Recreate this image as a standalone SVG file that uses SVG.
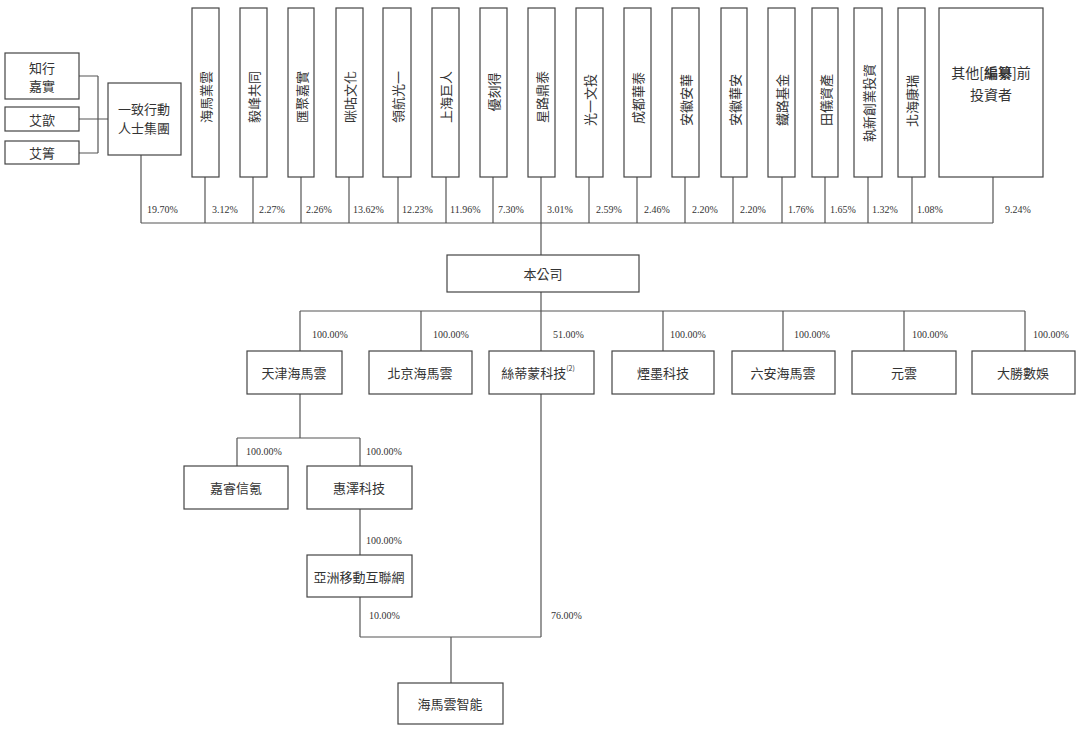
<svg xmlns="http://www.w3.org/2000/svg" width="1080" height="735" viewBox="0 0 1080 735">
<style>
.box{fill:#fff;stroke:#444;stroke-width:1.2}
.ln{fill:none;stroke:#555;stroke-width:1.2}
.t{font-family:"Noto Sans CJK TC","Noto Sans CJK SC",sans-serif;font-size:13px;fill:#333;text-anchor:middle;dominant-baseline:central}
.v{font-family:"Noto Sans CJK TC","Noto Sans CJK SC",sans-serif;font-size:13px;fill:#333;text-anchor:middle;dominant-baseline:central}
.p{font-family:"Liberation Serif","Times New Roman",serif;font-size:10px;fill:#333}
</style>
<rect width="1080" height="735" fill="#fff"/>
<g id="connectors">
<path class="ln" d="M79,76H98M79,119H98M79,153H98M98,76V153M98,119H108"/>
<path class="ln" d="M141,155V223M141,223H993"/>
<path class="ln" d="M205,177V223M253,177V223M301,177V223M349,177V223M398,177V223M446,177V223M493,177V223M541,177V255M589,177V223M637,177V223M685,177V223M733,177V223M782,177V223M825,177V223M868,177V223M912,177V223M993,177V223"/>
<path class="ln" d="M541,292V311M300,311H1025M300,311V351M421,311V351M541,311V351M663,311V351M783,311V351M904,311V351M1025,311V351"/>
<path class="ln" d="M300,394V438M237,438H360M237,438V466M360,438V466M360,509V555M360,597V637M360,637H541M541,394V637M451,637V683"/>
<g class="p">
<text x="147" y="213">19.70%</text>
<text x="212" y="213">3.12%</text>
<text x="259" y="213">2.27%</text>
<text x="306" y="213">2.26%</text>
<text x="353" y="213">13.62%</text>
<text x="402" y="213">12.23%</text>
<text x="450" y="213">11.96%</text>
<text x="498" y="213">7.30%</text>
<text x="547" y="213">3.01%</text>
<text x="596" y="213">2.59%</text>
<text x="644" y="213">2.46%</text>
<text x="692" y="213">2.20%</text>
<text x="740" y="213">2.20%</text>
<text x="788" y="213">1.76%</text>
<text x="830" y="213">1.65%</text>
<text x="872" y="213">1.32%</text>
<text x="917" y="213">1.08%</text>
<text x="1005" y="213">9.24%</text>
<text x="312" y="338">100.00%</text>
<text x="433" y="338">100.00%</text>
<text x="553" y="338">51.00%</text>
<text x="670" y="338">100.00%</text>
<text x="794" y="338">100.00%</text>
<text x="912" y="338">100.00%</text>
<text x="1033" y="338">100.00%</text>
<text x="246" y="455">100.00%</text>
<text x="366" y="455">100.00%</text>
<text x="366" y="544">100.00%</text>
<text x="369" y="619">10.00%</text>
<text x="551" y="619">76.00%</text>
</g>
</g>
<g id="n-zhixing"><rect class="box" x="5" y="53" width="74" height="46"/><text class="t" x="42" y="67">知行</text><text class="t" x="42" y="85">嘉實</text></g>
<g id="n-aixin"><rect class="box" x="5" y="107" width="74" height="24"/><text class="t" x="42" y="119">艾歆</text></g>
<g id="n-aijing"><rect class="box" x="5" y="141" width="74" height="23"/><text class="t" x="42" y="152">艾箐</text></g>
<g id="n-group"><rect class="box" x="108" y="83" width="73" height="72"/><text class="t" x="144" y="108">一致行動</text><text class="t" x="144" y="127">人士集團</text></g>
<g id="n-s1"><rect class="box" x="192" y="8" width="27" height="169"/><text class="v" transform="translate(205.5,97) rotate(-90)">海馬業雲</text></g>
<g id="n-s2"><rect class="box" x="240" y="8" width="27" height="169"/><text class="v" transform="translate(253.5,97) rotate(-90)">毅峰共同</text></g>
<g id="n-s3"><rect class="box" x="288" y="8" width="26" height="169"/><text class="v" transform="translate(301,97) rotate(-90)">匯聚嘉實</text></g>
<g id="n-s4"><rect class="box" x="336" y="8" width="27" height="169"/><text class="v" transform="translate(349.5,97) rotate(-90)">咪咕文化</text></g>
<g id="n-s5"><rect class="box" x="383" y="8" width="28" height="169"/><text class="v" transform="translate(397,97) rotate(-90)">領航光一</text></g>
<g id="n-s6"><rect class="box" x="432" y="8" width="27" height="169"/><text class="v" transform="translate(445.5,97) rotate(-90)">上海巨人</text></g>
<g id="n-s7"><rect class="box" x="480" y="8" width="27" height="169"/><text class="v" transform="translate(493.5,92) rotate(-90)">優刻得</text></g>
<g id="n-s8"><rect class="box" x="528" y="8" width="27" height="169"/><text class="v" transform="translate(541.5,97) rotate(-90)">星路鼎泰</text></g>
<g id="n-s9"><rect class="box" x="576" y="8" width="27" height="169"/><text class="v" transform="translate(589.5,100) rotate(-90)">光一文投</text></g>
<g id="n-s10"><rect class="box" x="624" y="8" width="27" height="169"/><text class="v" transform="translate(637.5,98) rotate(-90)">成都華泰</text></g>
<g id="n-s11"><rect class="box" x="672" y="8" width="27" height="169"/><text class="v" transform="translate(685.5,100) rotate(-90)">安徽安華</text></g>
<g id="n-s12"><rect class="box" x="721" y="8" width="26" height="169"/><text class="v" transform="translate(734,100) rotate(-90)">安徽華安</text></g>
<g id="n-s13"><rect class="box" x="768" y="8" width="27" height="169"/><text class="v" transform="translate(781.5,100) rotate(-90)">鐵路基金</text></g>
<g id="n-s14"><rect class="box" x="812" y="8" width="26" height="169"/><text class="v" transform="translate(825,100) rotate(-90)">田儀資產</text></g>
<g id="n-s15"><rect class="box" x="854" y="8" width="28" height="169"/><text class="v" transform="translate(868,103) rotate(-90)">執新創業投資</text></g>
<g id="n-s16"><rect class="box" x="898" y="8" width="27" height="169"/><text class="v" transform="translate(911.5,101) rotate(-90)">北海康瑞</text></g>
<g id="n-others"><rect class="box" x="939" y="8" width="104" height="169"/><text class="t" x="991" y="72" style="font-size:14px">其他[<tspan font-weight="bold">編纂</tspan>]前</text><text class="t" x="991" y="94" style="font-size:14px">投資者</text></g>
<g id="n-company"><rect class="box" x="447" y="255" width="192" height="37"/><text class="t" x="543" y="273">本公司</text></g>
<g id="n-tianjin"><rect class="box" x="247" y="351" width="95" height="43"/><text class="t" x="294" y="372">天津海馬雲</text></g>
<g id="n-beijing"><rect class="box" x="369" y="351" width="103" height="43"/><text class="t" x="420" y="372">北京海馬雲</text></g>
<g id="n-sidimeng"><rect class="box" x="489" y="351" width="105" height="43"/><text class="t" x="538" y="372">絲蒂蒙科技<tspan font-size="7" dy="-4">(2)</tspan></text></g>
<g id="n-yanmo"><rect class="box" x="612" y="351" width="102" height="43"/><text class="t" x="663" y="372">煙墨科技</text></g>
<g id="n-luan"><rect class="box" x="732" y="351" width="103" height="43"/><text class="t" x="783" y="372">六安海馬雲</text></g>
<g id="n-yuanyun"><rect class="box" x="852" y="351" width="104" height="43"/><text class="t" x="904" y="372">元雲</text></g>
<g id="n-dasheng"><rect class="box" x="972" y="351" width="103" height="43"/><text class="t" x="1023" y="372">大勝數娛</text></g>
<g id="n-jiarui"><rect class="box" x="184" y="466" width="104" height="43"/><text class="t" x="236" y="487">嘉睿信氪</text></g>
<g id="n-huize"><rect class="box" x="307" y="466" width="105" height="43"/><text class="t" x="359" y="487">惠澤科技</text></g>
<g id="n-asia"><rect class="box" x="307" y="555" width="105" height="42"/><text class="t" x="359" y="576">亞洲移動互聯網</text></g>
<g id="n-smart"><rect class="box" x="398" y="683" width="105" height="41"/><text class="t" x="450" y="703">海馬雲智能</text></g>
</svg>
